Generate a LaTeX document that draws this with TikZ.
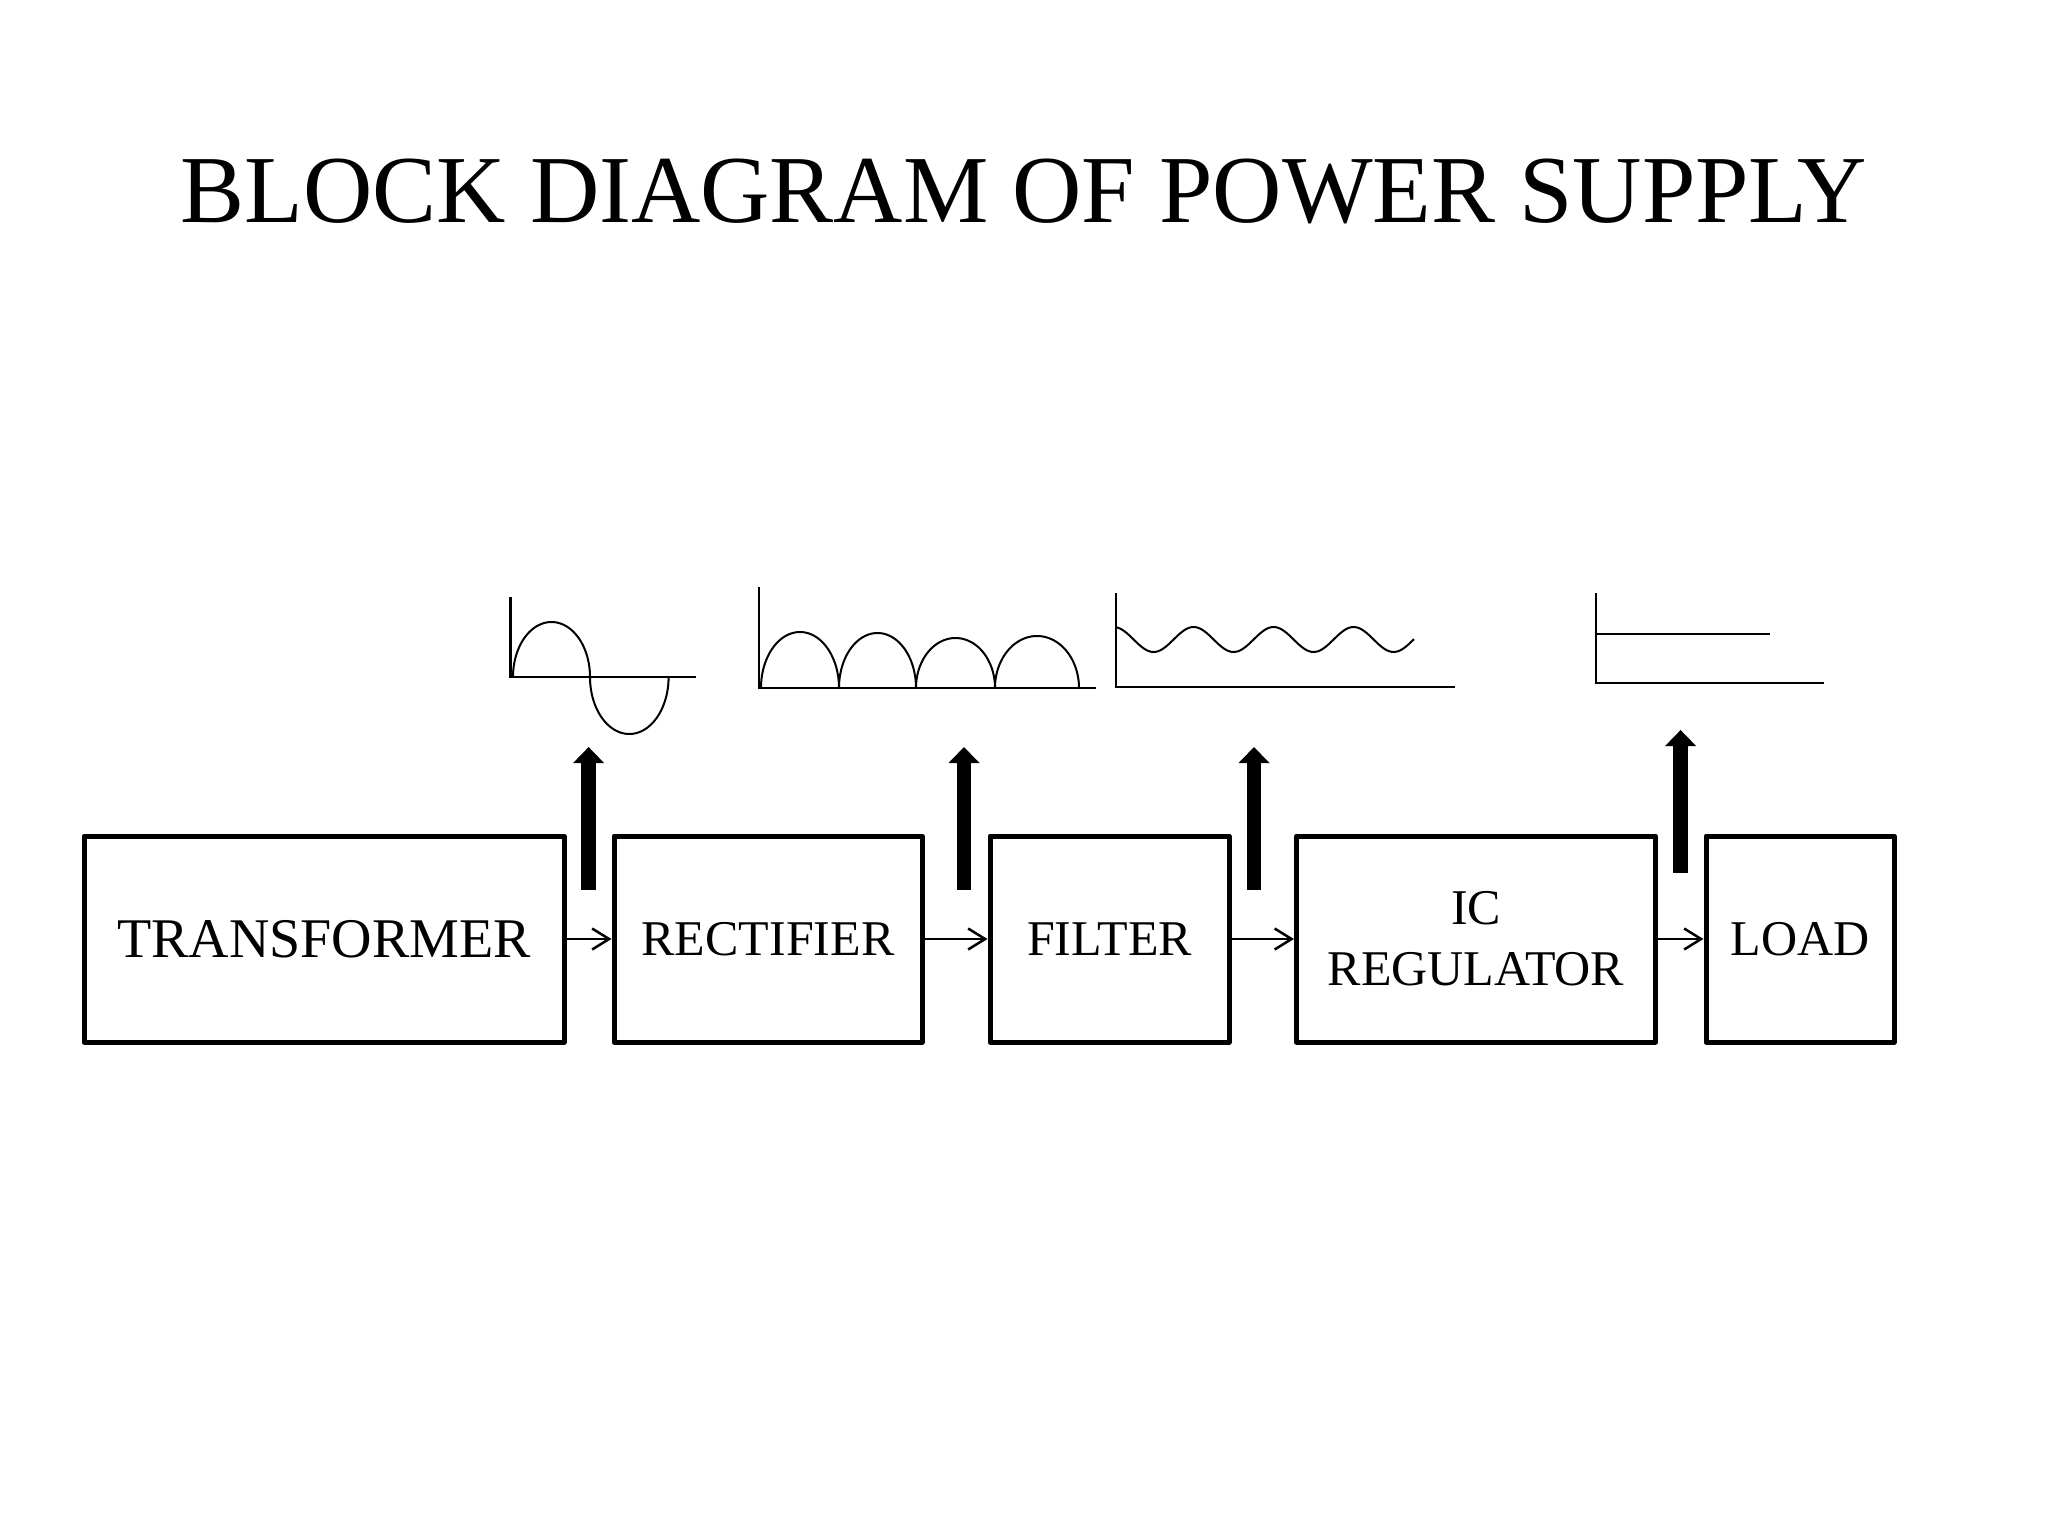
\documentclass[tikz,border=0pt]{standalone}
\usepackage{fontspec}
\setmainfont{Liberation Serif}
\usetikzlibrary{arrows.meta}
\tikzset{
  block/.style={draw, line width=5pt, line join=round, minimum height=206pt, inner sep=0pt, align=center, font=\fontsize{50}{61}\selectfont},
  flow/.style={line width=2.5pt, -{Straight Barb[length=17pt, width=21pt]}},
  probe/.style={line width=14.5pt, -{Triangle[length=16pt, width=30pt]}},
  axis/.style={line width=2.5pt},
  wave/.style={line width=2pt, line join=round},
}
\begin{document}
\begin{tikzpicture}[x=1pt, y=-1pt]
\useasboundingbox (0,0) rectangle (2048,1536);
% title
\node[anchor=base, inner sep=0pt, font=\fontsize{96}{115}\selectfont] (title) at (1024,222.7) {BLOCK DIAGRAM OF POWER SUPPLY};
% blocks
\node[block, minimum width=480pt, font=\fontsize{56}{66}\selectfont] (tr) at (324,939) {TRANSFORMER};
\node[block, minimum width=308pt] (re) at (768,939) {RECTIFIER};
\node[block, minimum width=239pt] (fi) at (1109.5,939) {FILTER};
\node[block, minimum width=359pt] (ic) at (1476,939) {IC\\REGULATOR};
\node[block, minimum width=188pt] (lo) at (1800,939) {LOAD};
% flow arrows
\draw[flow] (tr.east) -- (re.west);
\draw[flow] (re.east) -- (fi.west);
\draw[flow] (fi.east) -- (ic.west);
\draw[flow] (ic.east) -- (lo.west);
% probe arrows
\coordinate (p1a) at (588.6,890); \coordinate (p1b) at (588.6,747);
\coordinate (p2a) at (964,890);   \coordinate (p2b) at (964,747);
\coordinate (p3a) at (1254,890);  \coordinate (p3b) at (1254,747);
\coordinate (p4a) at (1680.6,873); \coordinate (p4b) at (1680.6,730);
\draw[probe] (p1a) -- (p1b);
\draw[probe] (p2a) -- (p2b);
\draw[probe] (p3a) -- (p3b);
\draw[probe] (p4a) -- (p4b);
% waveform 1: AC sine
\draw[axis] (510.6,597) -- (510.6,677) -- (695.5,677);
\draw[wave] plot[domain=0:180, samples=60] ({551.5-38.5*cos(\x)}, {677-55*sin(\x)});
\draw[wave] plot[domain=0:180, samples=60] ({629.3-39.3*cos(\x)}, {677+57*sin(\x)});
% waveform 2: full-wave rectified
\draw[axis] (758.8,587) -- (758.8,688) -- (1096,688);
\draw[wave] plot[domain=0:180, samples=60] ({800-39*cos(\x)}, {688-56*sin(\x)});
\draw[wave] plot[domain=0:180, samples=60] ({877.5-38.5*cos(\x)}, {688-55*sin(\x)});
\draw[wave] plot[domain=0:180, samples=60] ({955.5-39.5*cos(\x)}, {688-50*sin(\x)});
\draw[wave] plot[domain=0:180, samples=60] ({1037-42*cos(\x)}, {688-52*sin(\x)});
% waveform 3: filtered ripple
\draw[axis] (1116,593) -- (1116,687) -- (1455,687);
\draw[wave] plot[domain=1116:1414, samples=120] (\x, {639.5+12.5*cos(4.5*(\x-1153.6))});
% waveform 4: regulated DC
\draw[axis] (1596,593) -- (1596,683) -- (1823.5,683);
\draw[axis] (1596,634) -- (1770,634);
\end{tikzpicture}
\end{document}
